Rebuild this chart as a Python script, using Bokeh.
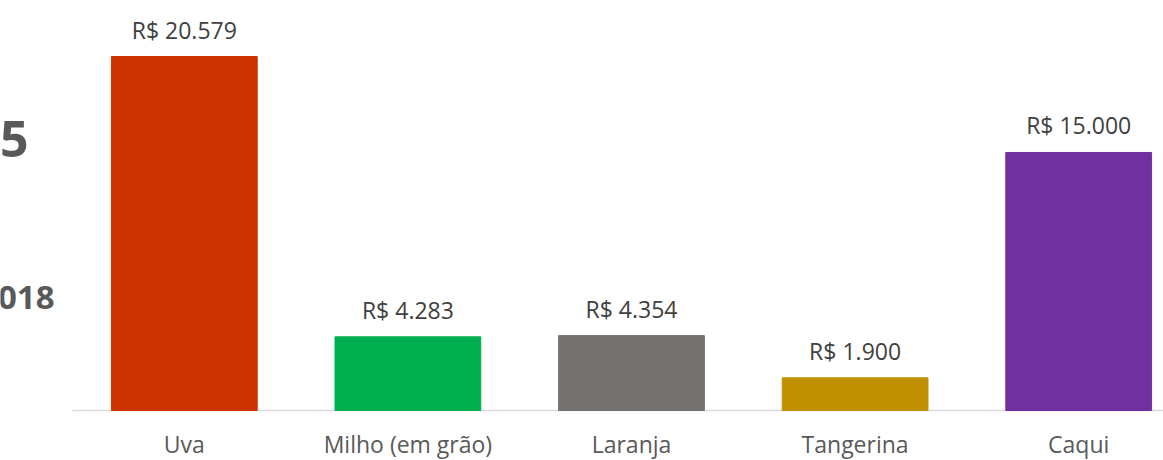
from bokeh.plotting import figure
from bokeh.models import Range1d, ColumnDataSource, Label
from bokeh.core.properties import value
from bokeh.embed import file_html
from bokeh.resources import INLINE

categories = ["Uva", "Milho (em grão)", "Laranja", "Tangerina", "Caqui"]
values = [20579, 4283, 4354, 1900, 15000]
labels = ["R$ 20.579", "R$ 4.283", "R$ 4.354", "R$ 1.900", "R$ 15.000"]
colors = ["#CC3300", "#00B050", "#767171", "#BF9000", "#7030A0"]

W, H = 1163, 460
xs = list(range(len(categories)))
step_px = 223.6
left_px = 72
x_start = -0.5 - left_px / step_px
x_end = x_start + W / step_px
units_per_px = 20579 / 354.0
y_start = -50 * units_per_px
y_end = 410 * units_per_px

src = ColumnDataSource(dict(x=xs, top=values, label=labels, color=colors,
                            cat=categories, zero=[0] * len(xs)))

p = figure(width=W, height=H, output_backend="svg", toolbar_location=None,
           x_range=Range1d(x_start, x_end), y_range=Range1d(y_start, y_end),
           min_border_left=0, min_border_right=0, min_border_top=0, min_border_bottom=0)
p.outline_line_color = None
p.background_fill_color = "white"
p.grid.visible = False
p.xaxis.visible = False
p.yaxis.visible = False

# baseline (category axis line)
p.segment(x0=-0.5, y0=0, x1=x_end, y1=0, line_color="#D9D9D9", line_width=1.5)

p.vbar(x="x", top="top", width=0.652, bottom=0, color="color", source=src)
p.text(x="x", y="top", text="label", source=src, text_align="center",
       text_baseline="alphabetic", y_offset=-27, text_color="#404040",
       text_font=value("Open Sans"), text_font_size="23px")

# category labels
p.text(x="x", y="zero", text="cat", source=src, text_align="center",
       text_baseline="alphabetic", y_offset=33, text_color="#595959",
       text_font=value("Open Sans"), text_font_size="23px")

p.add_layout(Label(x=28, y=322, x_units="screen", y_units="screen", text="5",
                   text_align="right", text_baseline="alphabetic",
                   text_font="Open Sans", text_font_style="bold",
                   text_font_size="50px", text_color="#595959"))
p.add_layout(Label(x=54, y=163, x_units="screen", y_units="screen", text="018",
                   text_align="right", text_baseline="alphabetic",
                   text_font="Open Sans", text_font_style="bold",
                   text_font_size="33px", text_color="#595959"))

open("out.html", "w").write(file_html(p, INLINE))
